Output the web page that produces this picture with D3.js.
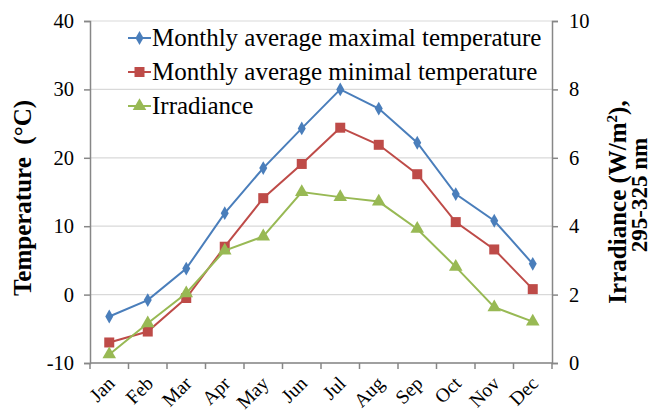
<!DOCTYPE html>
<html>
<head>
<meta charset="utf-8">
<script src="https://cdn.jsdelivr.net/npm/d3@7"></script>
<style>
  body { margin: 0; background: #fff; }
</style>
</head>
<body>
<svg class="chart" width="653" height="414"></svg>
<script>
// data
var months = ['Jan', 'Feb', 'Mar', 'Apr', 'May', 'Jun', 'Jul', 'Aug', 'Sep', 'Oct', 'Nov', 'Dec'];
var maxTemp = [-3.2, -0.8, 3.8, 11.9, 18.5, 24.3, 30.0, 27.2, 22.2, 14.7, 10.8, 4.5];
var minTemp = [-7.0, -5.4, -0.5, 7.0, 14.1, 19.1, 24.4, 21.9, 17.6, 10.6, 6.6, 0.8];
var irradiance = [0.25, 1.16, 2.04, 3.29, 3.7, 5.0, 4.85, 4.72, 3.92, 2.81, 1.63, 1.21];
var leftTicks = [-10, 0, 10, 20, 30, 40];
var rightTicks = [0, 2, 4, 6, 8, 10];
var seriesNames = ['Monthly average maximal temperature', 'Monthly average minimal temperature', 'Irradiance'];

var font = "Liberation Serif, DejaVu Serif, Times, serif";

var margin = {top: 21, right: 101, bottom: 51, left: 90},
    width = 653 - margin.left - margin.right,
    height = 414 - margin.top - margin.bottom;

var svg = d3.select(".chart").attr("font-family", font);
var g = svg.append("g").attr("transform", "translate(" + margin.left + "," + margin.top + ")");

var x = d3.scaleBand().domain(months).range([0, width]);
var yL = d3.scaleLinear().domain([-10, 40]).range([height, 0]);
var yR = d3.scaleLinear().domain([0, 10]).range([height, 0]);

// gridlines
g.selectAll(".grid")
  .data(leftTicks)
  .enter().append("line")
  .attr("x1", 0).attr("x2", width)
  .attr("y1", function(d) { return yL(d); })
  .attr("y2", function(d) { return yL(d); })
  .attr("stroke", "#d9d9d9")
  .attr("stroke-width", 1.2);

var axisColor = "#878787";
var plain = function(d) { return String(d); }; // keep hyphen minus like the original

// x axis, ticks on category boundaries
var xa = g.append("g").attr("transform", "translate(0," + height + ")");
xa.append("line").attr("x1", 0).attr("x2", width).attr("stroke", axisColor).attr("stroke-width", 1.5);
xa.selectAll(".xt")
  .data(d3.range(months.length + 1))
  .enter().append("line")
  .attr("x1", function(i) { return i * x.bandwidth(); })
  .attr("x2", function(i) { return i * x.bandwidth(); })
  .attr("y1", 0).attr("y2", 6)
  .attr("stroke", axisColor).attr("stroke-width", 1.5);
xa.selectAll(".xl")
  .data(months)
  .enter().append("text")
  .attr("transform", function(d) { return "translate(" + (x(d) + x.bandwidth() / 2 - 3) + ",12) rotate(-45)"; })
  .attr("text-anchor", "end")
  .attr("dy", "0.7em")
  .attr("font-size", 19.5)
  .text(function(d) { return d; });

// left axis
var ya = g.append("g")
  .call(d3.axisLeft(yL).tickValues(leftTicks).tickFormat(plain).tickSize(6).tickPadding(10));
ya.attr("font-family", font).attr("font-size", 20.5);
ya.select(".domain").attr("stroke", axisColor).attr("stroke-width", 1.5);
ya.selectAll(".tick line").attr("stroke", axisColor).attr("stroke-width", 1.5);

// right axis
var yb = g.append("g").attr("transform", "translate(" + width + ",0)")
  .call(d3.axisRight(yR).tickValues(rightTicks).tickFormat(plain).tickSize(6).tickPadding(11));
yb.attr("font-family", font).attr("font-size", 20.5);
yb.select(".domain").attr("stroke", axisColor).attr("stroke-width", 1.5);
yb.selectAll(".tick line").attr("stroke", axisColor).attr("stroke-width", 1.5);

// axis titles
svg.append("text")
  .attr("transform", "translate(31,198) rotate(-90)")
  .attr("text-anchor", "middle")
  .attr("font-size", 25).attr("font-weight", "bold")
  .text("Temperature\u00a0 (°C)");

var rt = svg.append("text")
  .attr("transform", "translate(626,202) rotate(-90)")
  .attr("text-anchor", "middle")
  .attr("font-size", 25).attr("font-weight", "bold");
rt.append("tspan").text("Irradiance (W/m");
rt.append("tspan").attr("dy", -9).attr("font-size", 15).text("2");
rt.append("tspan").attr("dy", 9).text("),");

svg.append("text")
  .attr("transform", "translate(647,195) rotate(-90)")
  .attr("text-anchor", "middle")
  .attr("font-size", 23).attr("font-weight", "bold")
  .text("295-325 nm");

// series
var series = [
  {name: seriesNames[0], values: maxTemp, y: yL, color: "#4a7ebb", marker: "diamond"},
  {name: seriesNames[1], values: minTemp, y: yL, color: "#be4b48", marker: "square"},
  {name: seriesNames[2], values: irradiance, y: yR, color: "#98b954", marker: "triangle"}
];

function markerPath(type) {
  if (type == "diamond") return d3.symbol().type(d3.symbolDiamond).size(55)();
  if (type == "square") return "M-5,-5H5V5H-5Z";
  return d3.symbol().type(d3.symbolTriangle).size(80)();
}

series.forEach(function(s) {
  var line = d3.line()
    .x(function(d, i) { return x(months[i]) + x.bandwidth() / 2; })
    .y(function(d) { return s.y(d); });
  g.append("path")
    .datum(s.values)
    .attr("d", line)
    .attr("fill", "none")
    .attr("stroke", s.color)
    .attr("stroke-width", 2);
  g.selectAll(".m-" + s.marker)
    .data(s.values)
    .enter().append("path")
    .attr("class", "m-" + s.marker)
    .attr("transform", function(d, i) { return "translate(" + (x(months[i]) + x.bandwidth() / 2) + "," + s.y(d) + ")"; })
    .attr("d", markerPath(s.marker))
    .attr("fill", s.color);
});

// legend
var legend = svg.append("g").attr("transform", "translate(128,38)");
series.forEach(function(s, i) {
  var row = legend.append("g").attr("transform", "translate(0," + (i * 34) + ")");
  row.append("line").attr("x1", 0).attr("x2", 23).attr("stroke", s.color).attr("stroke-width", 2);
  row.append("path").attr("transform", "translate(11.5,0)").attr("d", markerPath(s.marker)).attr("fill", s.color);
  row.append("text").attr("x", 24).attr("dy", "0.33em")
    .attr("font-size", 25).text(s.name);
});
</script>
</body>
</html>
